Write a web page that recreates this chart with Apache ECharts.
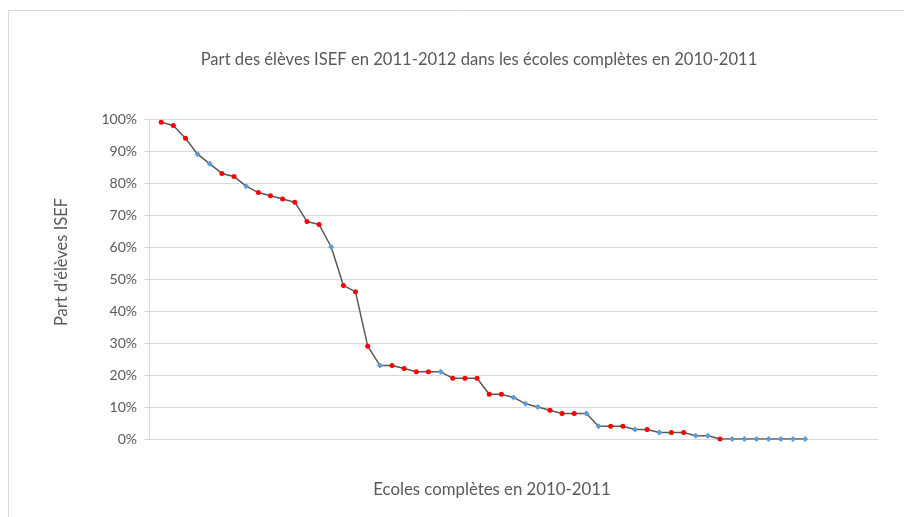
<!DOCTYPE html>
<html>
<head>
<meta charset="utf-8">
<script src="https://cdn.jsdelivr.net/npm/echarts@6/dist/echarts.min.js"></script>
<style>
  html, body { margin: 0; padding: 0; background: #ffffff; }
  #chart { width: 904px; height: 517px; }
</style>
</head>
<body>
<div id="chart"></div>
<script>
// Share of ISEF pupils (%) per school, schools ranked in decreasing order
const schoolShares = [
  99, 98, 94, 89, 86, 83, 82, 79, 77, 76,
  75, 74, 68, 67, 60, 48, 46, 29, 23, 23,
  22, 21, 21, 21, 19, 19, 19, 14, 14, 13,
  11, 10, 9, 8, 8, 8, 4, 4, 4, 3,
  3, 2, 2, 2, 1, 1, 0, 0, 0, 0,
  0, 0, 0, 0
];
// 1 = school highlighted in red, 0 = regular (blue) marker
const highlighted = [
  1, 1, 1, 0, 0, 1, 1, 0, 1, 1,
  1, 1, 1, 1, 0, 1, 1, 1, 0, 1,
  1, 1, 1, 0, 1, 1, 1, 1, 1, 0,
  0, 0, 1, 1, 1, 0, 0, 1, 1, 0,
  1, 0, 1, 1, 0, 0, 1, 0, 0, 0,
  0, 0, 0, 0
];
const yTicks = [0, 10, 20, 30, 40, 50, 60, 70, 80, 90, 100];

const chartTitle = "Part des élèves ISEF en 2011-2012 dans les écoles complètes en 2010-2011";
const xTitle = "Ecoles complètes en 2010-2011";
const yTitle = "Part d'élèves ISEF";

const FONT = "Lato, 'Open Sans', sans-serif";
const RED = '#ff0000';
const BLUE = '#5b9bd5';

const points = schoolShares.map((v, i) => {
  const hi = highlighted[i] === 1;
  return {
    value: [i + 1, v / 100],
    symbol: hi ? 'circle' : 'diamond',
    symbolSize: hi ? 5 : 6,
    itemStyle: { color: hi ? RED : BLUE, borderWidth: 0 }
  };
});

const chart = echarts.init(document.getElementById('chart'), null, { renderer: 'canvas' });
chart.setOption({
  backgroundColor: '#ffffff',
  animation: false,
  title: [
    {
      text: chartTitle,
      left: 474, top: 46, textAlign: 'center',
      textStyle: { fontFamily: FONT, fontSize: 16.6, fontWeight: 'normal', color: '#595959' }
    },
    {
      text: xTitle,
      left: 487, top: 476, textAlign: 'center',
      textStyle: { fontFamily: FONT, fontSize: 16.8, fontWeight: 'normal', color: '#595959' }
    }
  ],
  graphic: [
    {
      type: 'rect',
      shape: { x: 8.5, y: 10.5, width: 920, height: 540 },
      style: { fill: 'none', stroke: '#d9d9d9', lineWidth: 1 },
      silent: true
    },
    {
      type: 'text',
      x: 62, y: 262, rotation: Math.PI / 2,
      style: {
        text: yTitle, fill: '#595959',
        font: '16.5px ' + FONT,
        align: 'center', verticalAlign: 'middle'
      }
    }
  ],
  grid: { left: 149, right: 26, top: 119, bottom: 78, containLabel: false },
  xAxis: {
    type: 'value',
    min: 0, max: 60,
    axisLine: { show: true, onZero: false, lineStyle: { color: '#d9d9d9', width: 1 } },
    axisTick: { show: false },
    axisLabel: { show: false },
    splitLine: { show: false }
  },
  yAxis: {
    type: 'value',
    min: 0, max: 1, interval: 0.1,
    axisLine: { show: true, lineStyle: { color: '#d9d9d9', width: 1 } },
    axisTick: { show: true, length: 5, lineStyle: { color: '#d9d9d9' } },
    axisLabel: {
      margin: 12,
      fontFamily: FONT, fontSize: 14, color: '#595959',
      customValues: yTicks.map(t => t / 100),
      formatter: v => Math.round(v * 100) + '%'
    },
    splitLine: { show: true, lineStyle: { color: '#d9d9d9', width: 1 } }
  },
  series: [{
    type: 'line',
    data: points,
    showSymbol: true,
    lineStyle: { color: '#595959', width: 1.5 },
    z: 3
  }]
});
</script>
</body>
</html>
